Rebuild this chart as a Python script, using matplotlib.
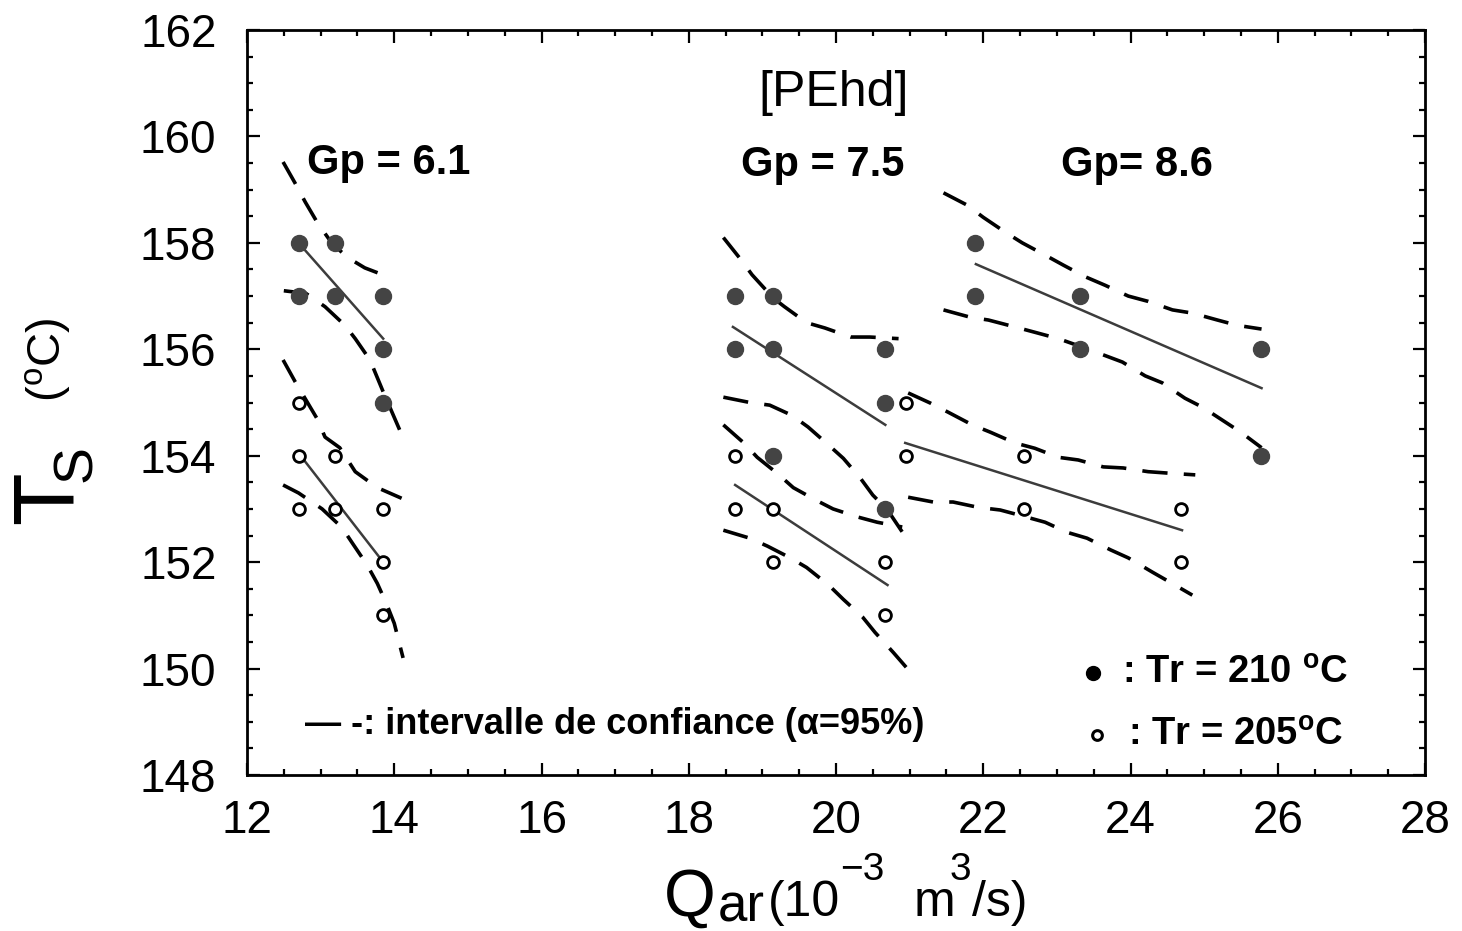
"""
Temperature de surface Ts en fonction du debit d'air Qar (PEhd),
pour trois valeurs de Gp et deux temperatures Tr, avec droites de
regression et intervalles de confiance a 95 %.
"""
import matplotlib.pyplot as plt
from matplotlib.ticker import MultipleLocator

plt.rcParams["font.family"] = ["Liberation Sans", "DejaVu Sans"]
plt.rcParams["mathtext.fontset"] = "custom"
plt.rcParams["mathtext.rm"] = "Liberation Sans"

# --- mesures (Tr = 210 C : plein, Tr = 205 C : vide) ---
x61_210 = [12.7, 12.7, 13.2, 13.2, 13.85, 13.85, 13.85]
y61_210 = [158, 157, 158, 157, 157, 156, 155]
x61_205 = [12.7, 12.7, 12.7, 13.2, 13.2, 13.85, 13.85, 13.85]
y61_205 = [155, 154, 153, 154, 153, 153, 152, 151]

x75_210 = [18.63, 18.63, 19.15, 19.15, 19.15, 20.67, 20.67, 20.67]
y75_210 = [157, 156, 157, 156, 154, 156, 155, 153]
x75_205 = [18.63, 18.63, 19.15, 19.15, 20.67, 20.67]
y75_205 = [154, 153, 153, 152, 152, 151]

x86_210 = [21.89, 21.89, 23.32, 23.32, 25.77, 25.77]
y86_210 = [158, 157, 157, 156, 156, 154]
x86_205 = [20.95, 20.95, 22.55, 22.55, 24.68, 24.68]
y86_205 = [155, 154, 154, 153, 153, 152]

# --- droites de regression (extremites) ---
reg_x = [[12.7, 13.85], [12.7, 13.85], [18.6, 20.67],
         [18.63, 20.7], [21.9, 25.78], [20.94, 24.7]]
reg_y = [[158.0, 156.2], [154.05, 152.0], [156.42, 154.58],
         [153.45, 151.57], [157.6, 155.27], [154.24, 152.6]]

# --- intervalles de confiance ---
b61_210_up_x = [12.49, 12.65, 12.79, 12.96, 13.15, 13.36, 13.6, 13.92]
b61_210_up_y = [159.52, 159.13, 158.77, 158.37, 158.0, 157.73, 157.53, 157.36]
b61_210_lo_x = [12.5, 12.8, 13.06, 13.33, 13.47, 13.67, 13.85, 14.1]
b61_210_lo_y = [157.1, 157.05, 156.8, 156.45, 156.2, 155.8, 155.2, 154.4]
b61_205_up_x = [12.49, 12.65, 12.8, 12.95, 13.06, 13.26, 13.47, 13.77, 14.1]
b61_205_up_y = [155.8, 155.4, 155.05, 154.7, 154.35, 154.15, 153.7, 153.4, 153.2]
b61_205_lo_x = [12.49, 12.7, 13.02, 13.29, 13.43, 13.63, 13.77, 13.9, 14.0, 14.12]
b61_205_lo_y = [153.45, 153.3, 153.0, 152.65, 152.36, 151.95, 151.6, 151.2, 150.85, 150.2]

b75_210_up_x = [18.47, 18.7, 18.86, 19.15, 19.3, 19.6, 19.85, 20.2, 20.46, 20.85]
b75_210_up_y = [158.1, 157.7, 157.4, 156.96, 156.8, 156.5, 156.4, 156.23, 156.23, 156.2]
b75_210_lo_x = [18.47, 18.83, 19.1, 19.4, 19.62, 19.9, 20.1, 20.33, 20.5, 20.7, 21.0]
b75_210_lo_y = [155.1, 155.0, 154.95, 154.76, 154.54, 154.2, 153.95, 153.58,
                153.26, 152.98, 152.36]
b75_205_up_x = [18.47, 18.74, 18.93, 19.2, 19.42, 19.72, 19.96, 20.29, 20.56, 20.9]
b75_205_up_y = [154.58, 154.25, 153.97, 153.67, 153.4, 153.17, 153.0, 152.85,
                152.75, 152.66]
b75_205_lo_x = [18.47, 18.83, 19.07, 19.38, 19.6, 19.9, 20.1, 20.36, 20.53, 20.78, 21.0]
b75_205_lo_y = [152.6, 152.45, 152.3, 152.08, 151.9, 151.57, 151.3, 150.97,
                150.68, 150.3, 149.95]

b86_210_up_x = [21.46, 21.78, 22.0, 22.3, 22.53, 22.84, 23.09, 23.39, 23.66,
                23.97, 24.24, 24.57, 24.84, 25.18, 25.45, 25.78]
b86_210_up_y = [158.94, 158.71, 158.48, 158.2, 158.0, 157.77, 157.58, 157.36,
                157.2, 157.0, 156.9, 156.74, 156.68, 156.55, 156.45, 156.38]
b86_210_lo_x = [21.46, 21.83, 22.07, 22.43, 22.7, 23.02, 23.43, 23.62, 23.89,
                24.2, 24.43, 24.74, 24.98, 25.29, 25.5, 25.78]
b86_210_lo_y = [156.74, 156.6, 156.55, 156.42, 156.32, 156.2, 156.0, 155.9,
                155.76, 155.5, 155.37, 155.08, 154.91, 154.63, 154.44, 154.15]
b86_205_up_x = [20.98, 21.28, 21.52, 21.85, 22.1, 22.43, 22.7, 23.02, 23.29,
                23.63, 23.9, 24.24, 24.54, 24.88]
b86_205_up_y = [155.18, 154.99, 154.82, 154.58, 154.44, 154.24, 154.14, 153.97,
                153.92, 153.79, 153.77, 153.7, 153.67, 153.64]
b86_205_lo_x = [20.98, 21.32, 21.59, 21.93, 22.23, 22.5, 22.84, 23.14, 23.41,
                23.73, 23.97, 24.3, 24.54, 24.84]
b86_205_lo_y = [153.22, 153.13, 153.13, 153.03, 152.98, 152.88, 152.75, 152.56,
                152.45, 152.23, 152.08, 151.81, 151.62, 151.38]

bands = [
    (b61_210_up_x, b61_210_up_y), (b61_210_lo_x, b61_210_lo_y),
    (b61_205_up_x, b61_205_up_y), (b61_205_lo_x, b61_205_lo_y),
    (b75_210_up_x, b75_210_up_y), (b75_210_lo_x, b75_210_lo_y),
    (b75_205_up_x, b75_205_up_y), (b75_205_lo_x, b75_205_lo_y),
    (b86_210_up_x, b86_210_up_y), (b86_210_lo_x, b86_210_lo_y),
    (b86_205_up_x, b86_205_up_y), (b86_205_lo_x, b86_205_lo_y),
]

W, H = 1462, 931
fig = plt.figure(figsize=(W / 100, H / 100), dpi=100)
ax = fig.add_axes([247 / W, 1 - 775 / H, (1425 - 247) / W, (775 - 30) / H])

for bx, by in bands:
    ax.plot(bx, by, color="black", lw=2.6, dashes=(7, 4.5),
            dash_capstyle="butt", zorder=2)

for rx, ry in zip(reg_x, reg_y):
    ax.plot(rx, ry, color="#3c3c3c", lw=1.8, zorder=3)

filled = dict(ls="none", marker="o", ms=11.5, mfc="#444444", mec="#444444", zorder=4)
hollow = dict(ls="none", marker="o", ms=8.5, mfc="white", mec="black", mew=2.0, zorder=4)
for xs, ys in [(x61_210, y61_210), (x75_210, y75_210), (x86_210, y86_210)]:
    ax.plot(xs, ys, **filled)
for xs, ys in [(x61_205, y61_205), (x75_205, y75_205), (x86_205, y86_205)]:
    ax.plot(xs, ys, **hollow)

ax.set_xlim(12, 28)
ax.set_ylim(148, 162)
ax.xaxis.set_major_locator(MultipleLocator(2))
ax.xaxis.set_minor_locator(MultipleLocator(0.5))
ax.yaxis.set_major_locator(MultipleLocator(2))
ax.yaxis.set_minor_locator(MultipleLocator(0.5))
ax.tick_params(which="both", direction="in", top=True, right=True, width=1.6)
ax.tick_params(which="major", length=9)
ax.tick_params(which="minor", length=4.5)
ax.tick_params(axis="both", labelsize=33)
ax.tick_params(axis="y", pad=22)
ax.tick_params(axis="x", pad=17)
for s in ax.spines.values():
    s.set_linewidth(2.0)

# annotations
txt = dict(fontsize=30, fontweight="bold", ha="center", va="center",
           transform=ax.transAxes)
ax.text(0.498, 0.915, "[PEhd]", fontsize=36, ha="center", va="center",
        transform=ax.transAxes)
ax.text(0.120, 0.822, "Gp = 6.1", **txt)
ax.text(0.489, 0.819, "Gp = 7.5", **txt)
ax.text(0.7555, 0.819, "Gp= 8.6", **txt)

# legende
ax.plot([0.718], [0.137], marker="o", ms=10, color="black",
        transform=ax.transAxes, clip_on=False)
ax.plot([0.7216], [0.0537], marker="o", ms=7, mfc="white", mec="black",
        mew=2.2, transform=ax.transAxes, clip_on=False)
ax.text(0.743, 0.137, r": Tr = 210 $^\mathregular{o}$C", fontsize=27.5,
        fontweight="bold", ha="left", va="center", transform=ax.transAxes)
ax.text(0.748, 0.054, r": Tr = 205$^\mathregular{o}$C", fontsize=27.5,
        fontweight="bold", ha="left", va="center", transform=ax.transAxes)
ax.text(0.049, 0.068, "— -: intervalle de confiance (α=95%)", fontsize=26,
        fontweight="bold", ha="left", va="center", transform=ax.transAxes)

# titre de l'axe y (vertical)
fig.text(50 / W, 1 - 498 / H, "T", fontsize=62, rotation=90,
         ha="center", va="center")
fig.text(77 / W, 1 - 464 / H, "S", fontsize=40, rotation=90,
         ha="center", va="center")
fig.text(48 / W, 1 - 360 / H, r"($^\mathregular{o}$C)", fontsize=34,
         rotation=90, ha="center", va="center")

# titre de l'axe x
fig.text(664 / W, 1 - 916 / H, "Q", fontsize=48, ha="left", va="baseline")
fig.text(718 / W, 1 - 922 / H, "ar", fontsize=38, ha="left", va="baseline")
fig.text(768 / W, 1 - 916 / H, "(10", fontsize=36, ha="left", va="baseline")
fig.text(840 / W, 1 - 880 / H, "\u22123", fontsize=28, ha="left", va="baseline")
fig.text(914 / W, 1 - 916 / H, "m", fontsize=36, ha="left", va="baseline")
fig.text(950 / W, 1 - 880 / H, "3", fontsize=28, ha="left", va="baseline")
fig.text(972 / W, 1 - 916 / H, "/s)", fontsize=36, ha="left", va="baseline")

fig.savefig("out.png", dpi=100)
